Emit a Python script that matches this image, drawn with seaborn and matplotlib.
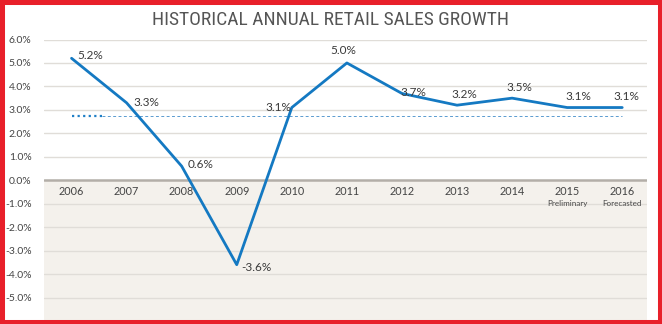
import matplotlib
matplotlib.use("Agg")
import matplotlib.pyplot as plt
import seaborn as sns
import pandas as pd
from matplotlib.patches import Rectangle
from matplotlib import font_manager

years = ["2006", "2007", "2008", "2009", "2010", "2011", "2012", "2013", "2014", "2015", "2016"]
sublabels = ["", "", "", "", "", "", "", "", "", "Preliminary", "Forecasted"]
growth = [5.2, 3.3, 0.6, -3.6, 3.1, 5.0, 3.7, 3.2, 3.5, 3.1, 3.1]
value_labels = ["5.2%", "3.3%", "0.6%", "-3.6%", "3.1%", "5.0%", "3.7%", "3.2%", "3.5%", "3.1%", "3.1%"]
average = 2.75
yticks = [6, 5, 4, 3, 2, 1, 0, -1, -2, -3, -4, -5]
ytick_labels = ["6.0%", "5.0%", "4.0%", "3.0%", "2.0%", "1.0%", "0.0%", "-1.0%", "-2.0%", "-3.0%", "-4.0%", "-5.0%"]
title = "HISTORICAL ANNUAL RETAIL SALES GROWTH"

# label offsets in points (dx, dy)
label_offsets = [(4, 2), (5, 0), (4, 1), (3, -2), (-19, 0), (-12, 9),
                 (-1, 1), (-4, 8), (-4, 8), (-1, 8), (-6, 8)]

sns.set_theme(style="white")
plt.rcParams["font.family"] = ["Lato", "DejaVu Sans"]

names = {f.name for f in font_manager.fontManager.ttflist}
title_family = None
for cand in ["Liberation Sans Narrow", "DejaVu Sans Condensed", "Roboto Condensed"]:
    if cand in names:
        title_family = cand
        break
cond = [f for f in font_manager.fontManager.ttflist
        if f.name == "DejaVu Sans" and str(f.stretch) in ("condensed", "semi-condensed")]

df = pd.DataFrame({"idx": list(range(len(years))), "growth": growth})

fig = plt.figure(figsize=(6.62, 3.24), dpi=100)
fig.patch.set_facecolor("white")
ax = fig.add_axes([44 / 662, 3 / 324, (647 - 44) / 662, (321 - 39.5) / 324])
ax.set_facecolor("white")
ax.set_xlim(-0.5, 10.45)
ax.set_ylim(-6, 6)

ax.axhspan(-6.5, 0, color="#f4f1ec", zorder=0, lw=0)
for t in yticks:
    if t != 0:
        ax.axhline(t, color="#e0ddd8", lw=1.0, zorder=1)
ax.axhline(0, color="#b3aea8", lw=1.8, zorder=2)

# average dotted line
ax.plot([0, 0.55], [average, average], color="#1f7fc6", lw=1.6, ls=(0, (1, 1.5)), zorder=2)
ax.plot([0.55, 10], [average, average], color="#5a9bd0", lw=0.7, ls=(0, (3, 2.5)), zorder=2)

sns.lineplot(data=df, x="idx", y="growth", ax=ax, color="#1479c2", lw=2.0, zorder=3)

for i, (v, lab) in enumerate(zip(growth, value_labels)):
    dx, dy = label_offsets[i]
    ax.annotate(lab, (i, v), xytext=(dx, dy), textcoords="offset points",
                ha="left", va="center", fontsize=8.5, color="#3a3a3a", zorder=4)

for i, (yr, sub) in enumerate(zip(years, sublabels)):
    ax.annotate(yr, (i, 0), xytext=(0, -4), textcoords="offset points",
                ha="center", va="top", fontsize=7.8, color="#444444", zorder=4)
    if sub:
        ax.annotate(sub, (i, 0), xytext=(0, -14), textcoords="offset points",
                    ha="center", va="top", fontsize=5.8, color="#444444", zorder=4)

ax.set_xticks([])
ax.set_yticks(yticks)
ax.set_yticklabels(ytick_labels, fontsize=7.5, color="#444444")
ax.tick_params(axis="y", length=0, pad=9)
ax.set_xlabel("")
ax.set_ylabel("")
for s in ax.spines.values():
    s.set_visible(False)

if title_family:
    tkw = dict(family=[title_family, "DejaVu Sans"], fontsize=14)
elif cond:
    tkw = dict(family=["DejaVu Sans"], fontstretch="condensed", fontsize=13)
else:
    tkw = dict(family=["Roboto", "DejaVu Sans"], fontsize=12.5)
fig.text(0.5, 1 - 20 / 324, title, ha="center", va="center",
         color="#555555", **tkw)

fig.patches.append(Rectangle((0, 0), 1, 1, transform=fig.transFigure, fill=False,
                             edgecolor="#e8202a", lw=6.5, zorder=10))

fig.savefig("out.png", dpi=100)
